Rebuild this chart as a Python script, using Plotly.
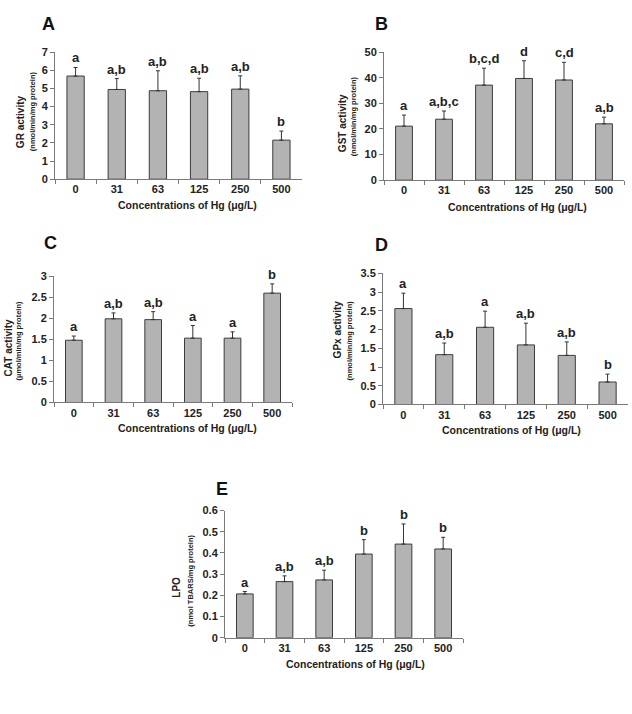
import plotly.graph_objects as go

W, H = 632, 714
# small vertical calibration (screen rows measured vs. drawn rows)
VA, VB = 0.982, 6.0

categories = ["0", "31", "63", "125", "250", "500"]

gr_mean = [5.68, 4.94, 4.87, 4.82, 4.96, 2.15]
gr_err = [0.47, 0.60, 1.10, 0.74, 0.73, 0.50]
gr_letters = ["a", "a,b", "a,b", "a,b", "a,b", "b"]

gst_mean = [21.1, 23.8, 37.1, 39.7, 39.1, 22.0]
gst_err = [4.3, 3.2, 6.6, 6.9, 6.9, 2.6]
gst_letters = ["a", "a,b,c", "b,c,d", "d", "c,d", "a,b"]

cat_mean = [1.48, 1.99, 1.97, 1.53, 1.53, 2.60]
cat_err = [0.10, 0.14, 0.19, 0.30, 0.15, 0.22]
cat_letters = ["a", "a,b", "a,b", "a", "a", "b"]

gpx_mean = [2.56, 1.33, 2.06, 1.59, 1.31, 0.60]
gpx_err = [0.41, 0.31, 0.43, 0.58, 0.36, 0.21]
gpx_letters = ["a", "a,b", "a", "a,b", "a,b", "b"]

lpo_mean = [0.207, 0.265, 0.273, 0.395, 0.442, 0.419]
lpo_err = [0.011, 0.027, 0.046, 0.068, 0.095, 0.055]
lpo_letters = ["a", "a,b", "a,b", "b", "b", "b"]

x_title = "Concentrations of Hg (μg/L)"

FONT = "Liberation Sans, Arial, sans-serif"
TXT = "#222222"

def fx(x):
    return x / W

def fy(y):
    yy = (y - VB) / VA
    return 1 - yy / H

panels = [
    ("A", gr_mean, gr_err, gr_letters, 7, 1, "GR activity", "(nmol/min/mg protein)",
     (55, 302), (52, 179), (48, 24), (20, 122), (32, 111), (188, 205)),
    ("B", gst_mean, gst_err, gst_letters, 50, 10, "GST activity", "(nmol/min/mg protein)",
     (384, 624), (52, 180), (381, 24), (342, 123), (353, 116), (517, 207)),
    ("C", cat_mean, cat_err, cat_letters, 3, 0.5, "CAT activity", "(µmol/min/mg protein)",
     (54, 292), (276, 402), (50, 243), (8, 348), (18, 341), (188, 427)),
    ("D", gpx_mean, gpx_err, gpx_letters, 3.5, 0.5, "GPx activity", "(nmol/min/mg protein)",
     (383, 628), (273, 404), (381, 245), (337, 329), (349, 340), (511, 429)),
    ("E", lpo_mean, lpo_err, lpo_letters, 0.6, 0.1, "LPO", "(nmol TBARS/mg protein)",
     (225, 463), (510, 637), (222, 488), (177, 587), (191, 580), (355, 663)),
]

fig = go.Figure()
annotations = []
layout = {}

for i, (lab, means, errs, lets, ymax, dt, yt, ys, xd, yd, lp, ytp, ysp, xtp) in enumerate(panels):
    n = "" if i == 0 else str(i + 1)
    xa, ya = "x" + n, "y" + n
    fig.add_trace(go.Bar(
        x=categories, y=means, xaxis=xa, yaxis=ya, width=0.42,
        marker=dict(color="#b3b3b3", line=dict(color="#3c3c3c", width=1)),
        error_y=dict(type="data", symmetric=False, array=errs, arrayminus=[0] * len(errs),
                     color="#333333", thickness=1, width=2),
        showlegend=False, hoverinfo="skip",
    ))
    layout["xaxis" + n] = dict(
        domain=[fx(xd[0]), fx(xd[1])], anchor=ya, type="category",
        categoryorder="array", categoryarray=categories,
        range=[-0.5, len(categories) - 0.5], autorange=False,
        showline=True, linecolor="#7a7a7a", linewidth=1,
        ticks="outside", tickson="boundaries", ticklen=4, tickcolor="#7a7a7a",
        tickangle=0,
        tickfont=dict(family=FONT, size=11, color=TXT, weight="bold"),
        showgrid=False, zeroline=False, fixedrange=True,
    )
    layout["yaxis" + n] = dict(
        domain=[fy(yd[1]), fy(yd[0])], anchor=xa, range=[0, ymax], autorange=False,
        dtick=dt, tick0=0,
        showline=True, linecolor="#7a7a7a", linewidth=1,
        ticks="outside", ticklen=4, tickcolor="#7a7a7a",
        tickfont=dict(family=FONT, size=11, color=TXT, weight="bold"),
        showgrid=False, zeroline=False, fixedrange=True,
    )
    for j, (m, e, t) in enumerate(zip(means, errs, lets)):
        annotations.append(dict(
            x=j, y=m + e, xref=xa, yref=ya, text=t, showarrow=False,
            yanchor="bottom", xanchor="center", yshift=0,
            font=dict(family=FONT, size=13, color=TXT, weight="bold"),
        ))
    annotations.append(dict(
        x=fx(lp[0]), y=fy(lp[1]), xref="paper", yref="paper", text=lab, showarrow=False,
        xanchor="center", yanchor="middle",
        font=dict(family=FONT, size=18, color="#111111", weight="bold"),
    ))
    annotations.append(dict(
        x=fx(ytp[0]), y=fy(ytp[1]), xref="paper", yref="paper", text=yt, showarrow=False,
        textangle=-90, xanchor="center", yanchor="middle",
        font=dict(family=FONT, size=10, color=TXT, weight="bold"),
    ))
    annotations.append(dict(
        x=fx(ysp[0]), y=fy(ysp[1]), xref="paper", yref="paper", text=ys, showarrow=False,
        textangle=-90, xanchor="center", yanchor="middle",
        font=dict(family=FONT, size=7.5, color=TXT, weight="bold"),
    ))
    annotations.append(dict(
        x=fx(xtp[0]), y=fy(xtp[1]), xref="paper", yref="paper", text=x_title, showarrow=False,
        xanchor="center", yanchor="middle",
        font=dict(family=FONT, size=10.5, color=TXT, weight="bold"),
    ))

fig.update_layout(
    width=W, height=H, autosize=False,
    margin=dict(l=0, r=0, t=0, b=0),
    paper_bgcolor="white", plot_bgcolor="white",
    annotations=annotations,
    **layout,
)

fig.write_html(
    "out.html",
    config={"displayModeBar": False, "staticPlot": True},
    post_script="document.body.style.margin='0';document.body.style.overflow='hidden';",
)
